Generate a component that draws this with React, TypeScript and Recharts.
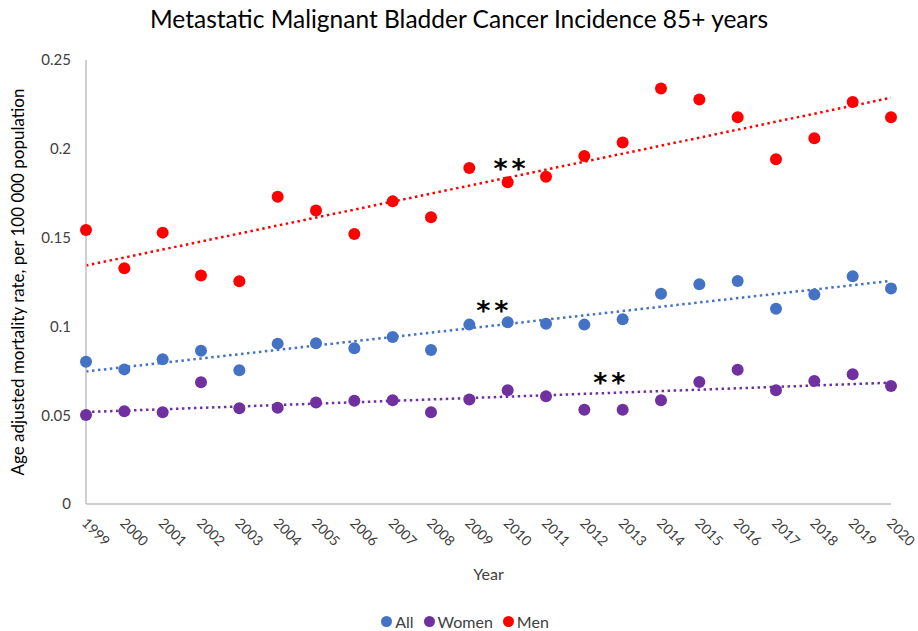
import React from "react";
import {
  ComposedChart,
  Legend,
  Line,
  ReferenceDot,
  Scatter,
  XAxis,
  YAxis
} from "recharts";

const YEARS = [
  1999, 2000, 2001, 2002, 2003, 2004, 2005, 2006, 2007, 2008, 2009, 2010, 2011, 2012, 2013, 2014, 2015,
  2016, 2017, 2018, 2019, 2020
];

const ALL = [
  0.0801, 0.0758, 0.0815, 0.0863, 0.0753, 0.0903, 0.0905, 0.0877, 0.094, 0.0867, 0.101, 0.1023, 0.1015,
  0.101, 0.104, 0.1184, 0.1237, 0.1256, 0.11, 0.1179, 0.1282, 0.1213
];

const WOMEN = [
  0.0501, 0.0522, 0.0516, 0.0685, 0.0539, 0.0542, 0.0571, 0.0582, 0.0584, 0.0516, 0.0589, 0.064, 0.0606,
  0.0531, 0.0531, 0.0584, 0.0687, 0.0756, 0.064, 0.0693, 0.073, 0.0664
];

const MEN = [
  0.1543, 0.1327, 0.1528, 0.1286, 0.1254, 0.173, 0.1653, 0.152, 0.1704, 0.1614, 0.1892, 0.1811, 0.1843,
  0.1959, 0.2035, 0.2339, 0.2278, 0.2177, 0.1941, 0.2059, 0.2264, 0.2177
];

const Y_TICKS = [0, 0.05, 0.1, 0.15, 0.2, 0.25];

const SERIES = [
  { key: "all", name: "All", color: "#4472C4", values: ALL },
  { key: "women", name: "Women", color: "#7030A0", values: WOMEN },
  { key: "men", name: "Men", color: "#FF0000", values: MEN }
];

// significance markers, placed in data coordinates
const MARKS = [
  { x: 2010.05, y: 0.1926 },
  { x: 2009.6, y: 0.1126 },
  { x: 2012.65, y: 0.0721 }
];

const FONT = "Lato, 'Open Sans', sans-serif";
const AXIS_GREY = "#bfbfbf";
const TEXT_COLOR = "#404040";

// least squares fit, same as the spreadsheet's linear trendline
function linearFit(xs: number[], ys: number[]) {
  const n = xs.length;
  const mx = xs.reduce((a, b) => a + b, 0) / n;
  const my = ys.reduce((a, b) => a + b, 0) / n;
  let num = 0;
  let den = 0;
  for (let i = 0; i < n; i++) {
    num += (xs[i] - mx) * (ys[i] - my);
    den += (xs[i] - mx) * (xs[i] - mx);
  }
  const slope = num / den;
  return (x: number) => my + slope * (x - mx);
}

const fits = SERIES.map((s) => linearFit(YEARS, s.values));

const chartData = YEARS.map((year, i) => {
  const row: Record<string, number> = { year };
  SERIES.forEach((s, si) => {
    row[s.key] = s.values[i];
    row[`${s.key}Trend`] = fits[si](year);
  });
  return row;
});

function YearTick(props: any) {
  const { x, y, payload } = props;
  const tx = x - 5;
  const ty = y + 12;
  return (
    <text
      x={tx}
      y={ty}
      transform={`rotate(45 ${tx} ${ty})`}
      textAnchor="start"
      fontSize={14}
      fontFamily={FONT}
      fill={TEXT_COLOR}
    >
      {payload.value}
    </text>
  );
}

function LegendRow() {
  return (
    <div
      style={{
        display: "flex",
        justifyContent: "center",
        alignItems: "center",
        gap: 10,
        paddingLeft: 39,
        fontFamily: FONT,
        fontSize: 16,
        color: TEXT_COLOR,
        height: 20
      }}
    >
      {SERIES.map((s) => (
        <span key={s.key} style={{ display: "flex", alignItems: "center", gap: 3 }}>
          <span
            style={{ width: 11, height: 11, borderRadius: "50%", background: s.color, display: "inline-block" }}
          />
          {s.name}
        </span>
      ))}
    </div>
  );
}

function StarsLabel(props: any) {
  const { cx, cy } = props;
  return (
    <text
      x={cx + 2}
      y={cy + 16}
      textAnchor="middle"
      fontSize={27}
      fontWeight="bold"
      fontFamily="'DejaVu Sans', sans-serif"
      letterSpacing={4}
      fill="#000000"
    >
      **
    </text>
  );
}

export default function App() {
  return (
    <div style={{ position: "absolute", left: 0, top: 0, width: 918, height: 631, background: "#fff" }}>
      <div
        style={{
          position: "absolute",
          top: 4,
          width: 918,
          textAlign: "center",
          fontFamily: FONT,
          fontSize: 24.5,
          color: "#000"
        }}
      >
        Metastatic Malignant Bladder Cancer Incidence 85+ years
      </div>
      <ComposedChart
        width={918}
        height={631}
        data={chartData}
        margin={{ top: 60, right: 27, bottom: 0, left: 0 }}
      >
        <XAxis
          dataKey="year"
          type="number"
          domain={[1999, 2020]}
          ticks={YEARS}
          interval={0}
          tick={<YearTick />}
          tickLine={false}
          axisLine={{ stroke: AXIS_GREY, strokeWidth: 1.5 }}
          height={107}
          label={{
            value: "Year",
            position: "insideBottom",
            offset: 31,
            fontSize: 16,
            fontFamily: FONT,
            fill: TEXT_COLOR
          }}
        />
        <YAxis
          type="number"
          domain={[0, 0.25]}
          ticks={Y_TICKS}
          width={86}
          tickLine={false}
          axisLine={{ stroke: AXIS_GREY, strokeWidth: 1.5 }}
          tick={{ fontSize: 15, fontFamily: FONT, fill: TEXT_COLOR, dx: -7 }}
          label={{
            value: "Age adjusted mortality rate, per 100 000 population",
            angle: -90,
            position: "insideLeft",
            offset: 18,
            style: { textAnchor: "middle" },
            fontSize: 17,
            fontFamily: FONT,
            fill: "#000"
          }}
        />
        <Legend verticalAlign="bottom" height={20} content={<LegendRow />} />
        {SERIES.map((s) => (
          <Line
            key={`${s.key}Trend`}
            dataKey={`${s.key}Trend`}
            type="linear"
            stroke={s.color}
            strokeWidth={2.5}
            strokeDasharray="2.5 3.5"
            dot={false}
            activeDot={false}
            legendType="none"
            isAnimationActive={false}
          />
        ))}
        {SERIES.map((s) => (
          <Scatter
            key={s.key}
            name={s.name}
            dataKey={s.key}
            fill={s.color}
            shape={(p: any) => <circle cx={p.cx} cy={p.cy} r={6} fill={s.color} />}
            legendType="circle"
            isAnimationActive={false}
          />
        ))}
        {MARKS.map((m, i) => (
          <ReferenceDot key={i} x={m.x} y={m.y} r={0} shape={(p: any) => <StarsLabel {...p} />} />
        ))}
      </ComposedChart>
    </div>
  );
}
